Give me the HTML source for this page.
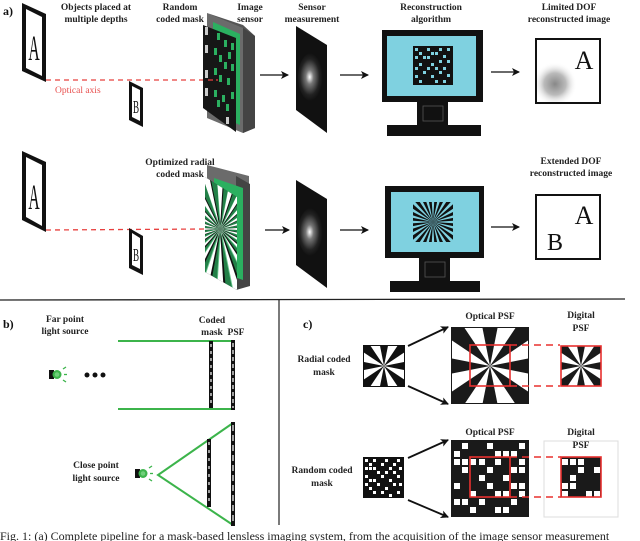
<!DOCTYPE html>
<html><head><meta charset="utf-8"><style>
html,body{margin:0;padding:0;background:#fff;}
svg{display:block;}
.l{font-family:"Liberation Serif",serif;font-weight:bold;font-size:9.5px;fill:#222;text-anchor:middle;}
.p{font-family:"Liberation Serif",serif;font-weight:bold;font-size:12px;fill:#111;}
</style></head><body>
<svg width="640" height="541" viewBox="0 0 640 541" xmlns="http://www.w3.org/2000/svg">
<defs>
<radialGradient id="spot" cx="0.45" cy="0.5" r="0.5">
<stop offset="0" stop-color="#fff"/><stop offset="0.3" stop-color="#777"/><stop offset="0.75" stop-color="#222"/><stop offset="1" stop-color="#111"/></radialGradient>
<radialGradient id="blur" cx="0.5" cy="0.5" r="0.5">
<stop offset="0" stop-color="#888"/><stop offset="0.5" stop-color="#bbb"/><stop offset="1" stop-color="#fff" stop-opacity="0"/></radialGradient>
<g id="wed"><polygon points="0,0 100,-20 100,20"/></g>
<g id="star">
<use href="#wed" transform="rotate(0)"/><use href="#wed" transform="rotate(45)"/><use href="#wed" transform="rotate(90)"/><use href="#wed" transform="rotate(135)"/><use href="#wed" transform="rotate(180)"/><use href="#wed" transform="rotate(225)"/><use href="#wed" transform="rotate(270)"/><use href="#wed" transform="rotate(315)"/>
</g>
<g id="fine">
<polygon points="0,0 100,-6 100,6"/><polygon points="0,0 100,-6 100,6" transform="rotate(15)"/><polygon points="0,0 100,-6 100,6" transform="rotate(30)"/><polygon points="0,0 100,-6 100,6" transform="rotate(45)"/><polygon points="0,0 100,-6 100,6" transform="rotate(60)"/><polygon points="0,0 100,-6 100,6" transform="rotate(75)"/><polygon points="0,0 100,-6 100,6" transform="rotate(90)"/><polygon points="0,0 100,-6 100,6" transform="rotate(105)"/><polygon points="0,0 100,-6 100,6" transform="rotate(120)"/><polygon points="0,0 100,-6 100,6" transform="rotate(135)"/><polygon points="0,0 100,-6 100,6" transform="rotate(150)"/><polygon points="0,0 100,-6 100,6" transform="rotate(165)"/><polygon points="0,0 100,-6 100,6" transform="rotate(180)"/><polygon points="0,0 100,-6 100,6" transform="rotate(195)"/><polygon points="0,0 100,-6 100,6" transform="rotate(210)"/><polygon points="0,0 100,-6 100,6" transform="rotate(225)"/><polygon points="0,0 100,-6 100,6" transform="rotate(240)"/><polygon points="0,0 100,-6 100,6" transform="rotate(255)"/><polygon points="0,0 100,-6 100,6" transform="rotate(270)"/><polygon points="0,0 100,-6 100,6" transform="rotate(285)"/><polygon points="0,0 100,-6 100,6" transform="rotate(300)"/><polygon points="0,0 100,-6 100,6" transform="rotate(315)"/><polygon points="0,0 100,-6 100,6" transform="rotate(330)"/><polygon points="0,0 100,-6 100,6" transform="rotate(345)"/>
</g>
<clipPath id="c1"><rect x="364" y="346" width="40" height="40"/></clipPath>
<clipPath id="c2"><rect x="452" y="328" width="76" height="75"/></clipPath>
<clipPath id="c3"><rect x="561" y="346" width="40" height="40"/></clipPath>
<clipPath id="c4"><polygon points="205,177 237,197 237,290 205,272"/></clipPath>
<clipPath id="c5"><rect x="413" y="202" width="40" height="40"/></clipPath>
<marker id="ar" markerWidth="8" markerHeight="8" refX="7" refY="4" orient="auto" markerUnits="userSpaceOnUse"><path d="M0,0 L8,4 L0,8 L2,4 z" fill="#111"/></marker>
</defs>

<text class="p" x="3" y="15">a)</text>
<text class="l" x="96" y="10">Objects placed at</text>
<text class="l" x="96" y="22">multiple depths</text>
<text class="l" x="180" y="10">Random</text>
<text class="l" x="180" y="22">coded mask</text>
<text class="l" x="250" y="10">Image</text>
<text class="l" x="250" y="22">sensor</text>
<text class="l" x="312" y="10">Sensor</text>
<text class="l" x="312" y="22">measurement</text>
<text class="l" x="431" y="10">Reconstruction</text>
<text class="l" x="431" y="22">algorithm</text>
<text class="l" x="569" y="10">Limited DOF</text>
<text class="l" x="569" y="22">reconstructed image</text>

<polygon points="22,3 46,14 46,82 22,71" fill="#111"/>
<polygon points="26,9 42,17 42,76 26,68" fill="#fff"/>
<text transform="translate(34,60) scale(0.65,1.5)" font-family="Liberation Serif,serif" font-size="24" text-anchor="middle" fill="#111">A</text>
<line x1="46" y1="80" x2="218" y2="80" stroke="#e8403f" stroke-width="1.3" stroke-dasharray="5,4"/>
<text x="55" y="93" font-family="Liberation Serif,serif" font-size="9.5" fill="#e8504f">Optical axis</text>
<polygon points="129,81 143,88 143,127 129,120" fill="#111"/>
<polygon points="132,86 140,90 140,121 132,117" fill="#fff"/>
<text transform="translate(136,113) scale(0.7,1.4)" font-family="Liberation Serif,serif" font-size="13" text-anchor="middle" fill="#111">B</text>
<polygon points="207,13 243,25 255,36 255,128 243,133 243,30" fill="#555"/>
<polygon points="207,13 243,28 243,133 207,118" fill="#6b6b6b"/>
<polygon points="243,28 255,36 255,128 243,133" fill="#444"/>
<polygon points="213,22 240,34 240,125 213,113" fill="#2bb060"/>
<polygon points="203,25 236,38 236,132 203,108" fill="#161616"/>
<g fill="#2bb060">
<rect x="217" y="33" width="3" height="7"/><rect x="224" y="40" width="3" height="7"/><rect x="231" y="43" width="3" height="7"/><rect x="214" y="48" width="3" height="7"/><rect x="219" y="55" width="3" height="7"/><rect x="228" y="52" width="3" height="7"/><rect x="224" y="62" width="3" height="7"/><rect x="214" y="68" width="3" height="7"/><rect x="231" y="64" width="3" height="7"/><rect x="219" y="75" width="3" height="7"/><rect x="227" y="78" width="3" height="7"/><rect x="214" y="90" width="3" height="7"/><rect x="222" y="95" width="3" height="7"/><rect x="231" y="92" width="3" height="7"/><rect x="226" y="104" width="3" height="7"/><rect x="217" y="100" width="3" height="7"/></g>
<g fill="#ccc"><rect x="205" y="27" width="3" height="8"/><rect x="205" y="45" width="3" height="8"/><rect x="205" y="70" width="3" height="8"/><rect x="205" y="88" width="3" height="8"/><rect x="226" y="117" width="3" height="7"/></g>
<line x1="208" y1="80" x2="218" y2="80" stroke="#e8403f" stroke-width="1.3" stroke-dasharray="5,3"/>
<line x1="260" y1="75" x2="288" y2="75" stroke="#111" stroke-width="1.2" marker-end="url(#ar)"/>
<polygon points="296,26 327,45 327,133 296,110" fill="#111"/>
<ellipse cx="311" cy="77" rx="13" ry="24" fill="url(#spot)"/>
<line x1="340" y1="75" x2="368" y2="75" stroke="#111" stroke-width="1.2" marker-end="url(#ar)"/>
<rect x="382" y="30" width="101" height="72" fill="#111"/>
<rect x="387" y="36" width="89" height="60" fill="#7fd1e0"/>
<rect x="413" y="46" width="40" height="39" fill="#111"/>
<g fill="#7fd1e0">
<rect x="415" y="48" width="3" height="3"/><rect x="427" y="48" width="3" height="3"/><rect x="439" y="48" width="3" height="3"/><rect x="447" y="48" width="3" height="3"/><rect x="419" y="52" width="3" height="3"/><rect x="431" y="52" width="3" height="3"/><rect x="435" y="52" width="3" height="3"/><rect x="443" y="55" width="3" height="3"/><rect x="415" y="56" width="3" height="3"/><rect x="423" y="56" width="3" height="3"/><rect x="427" y="56" width="3" height="3"/><rect x="439" y="60" width="3" height="3"/><rect x="447" y="60" width="3" height="3"/><rect x="419" y="63" width="3" height="3"/><rect x="431" y="63" width="3" height="3"/><rect x="415" y="67" width="3" height="3"/><rect x="427" y="67" width="3" height="3"/><rect x="435" y="67" width="3" height="3"/><rect x="443" y="67" width="3" height="3"/><rect x="423" y="71" width="3" height="3"/><rect x="439" y="71" width="3" height="3"/><rect x="447" y="74" width="3" height="3"/><rect x="415" y="75" width="3" height="3"/><rect x="431" y="75" width="3" height="3"/><rect x="419" y="80" width="3" height="3"/><rect x="435" y="80" width="3" height="3"/><rect x="443" y="80" width="3" height="3"/></g>
<rect x="417" y="102" width="31" height="24" fill="#111"/>
<rect x="423" y="106" width="20" height="15" fill="#111" stroke="#555" stroke-width="0.8"/>
<rect x="387" y="125" width="94" height="11" fill="#111"/>
<line x1="491" y1="72" x2="519" y2="72" stroke="#111" stroke-width="1.2" marker-end="url(#ar)"/>
<rect x="536" y="39" width="64" height="64" fill="#fff" stroke="#111" stroke-width="2"/>
<circle cx="555" cy="84" r="22" fill="url(#blur)"/>
<rect x="536" y="39" width="64" height="64" fill="none" stroke="#111" stroke-width="2"/>
<text x="584" y="69" font-family="Liberation Serif,serif" font-size="26" text-anchor="middle" fill="#111">A</text>

<text class="l" x="180" y="165">Optimized radial</text>
<text class="l" x="180" y="177">coded mask</text>
<text class="l" x="571" y="164">Extended DOF</text>
<text class="l" x="571" y="176">reconstructed image</text>
<polygon points="22,151 46,162 46,232 22,220" fill="#111"/>
<polygon points="26,157 42,165 42,226 26,217" fill="#fff"/>
<text transform="translate(34,209) scale(0.65,1.5)" font-family="Liberation Serif,serif" font-size="24" text-anchor="middle" fill="#111">A</text>
<line x1="46" y1="230" x2="206" y2="229" stroke="#e8403f" stroke-width="1.3" stroke-dasharray="5,4"/>
<polygon points="129,228 143,236 143,275 129,268" fill="#111"/>
<polygon points="132,233 140,238 140,269 132,265" fill="#fff"/>
<text transform="translate(136,261) scale(0.7,1.4)" font-family="Liberation Serif,serif" font-size="13" text-anchor="middle" fill="#111">B</text>
<polygon points="207,165 249,176 249,283 207,272" fill="#6b6b6b"/>
<polygon points="236,176 250,184 250,286 236,290" fill="#444"/>
<polygon points="214,178 243,188 243,280 214,270" fill="#2bb060"/>
<polygon points="205,177 237,197 237,290 205,272" fill="#111"/>
<g clip-path="url(#c4)">
<g transform="translate(220,229) scale(0.7)" fill="#fff"><use href="#fine"/></g>
<g transform="translate(221,229) rotate(7) scale(0.7)" fill="#2bb060" opacity="0.7"><use href="#fine"/></g>
</g>
<line x1="265" y1="230" x2="289" y2="230" stroke="#111" stroke-width="1.2" marker-end="url(#ar)"/>
<polygon points="296,180 327,199 327,288 296,265" fill="#111"/>
<ellipse cx="311" cy="232" rx="13" ry="24" fill="url(#spot)"/>
<line x1="340" y1="230" x2="368" y2="230" stroke="#111" stroke-width="1.2" marker-end="url(#ar)"/>
<rect x="385" y="186" width="99" height="72" fill="#111"/>
<rect x="391" y="192" width="88" height="60" fill="#7fd1e0"/>
<rect x="413" y="202" width="40" height="40" fill="#111"/>
<g clip-path="url(#c5)"><g transform="translate(433,222) scale(0.6)" fill="#7fd1e0"><use href="#fine"/></g></g>
<rect x="419" y="258" width="31" height="24" fill="#111"/>
<rect x="425" y="262" width="20" height="15" fill="#111" stroke="#555" stroke-width="0.8"/>
<rect x="390" y="281" width="90" height="11" fill="#111"/>
<line x1="491" y1="227" x2="519" y2="227" stroke="#111" stroke-width="1.2" marker-end="url(#ar)"/>
<rect x="536" y="195" width="64" height="64" fill="#fff" stroke="#111" stroke-width="2"/>
<text x="584" y="224" font-family="Liberation Serif,serif" font-size="26" text-anchor="middle" fill="#111">A</text>
<text x="555" y="250" font-family="Liberation Serif,serif" font-size="24" text-anchor="middle" fill="#111">B</text>

<line x1="0" y1="300" x2="625" y2="299" stroke="#222" stroke-width="1.3"/>
<line x1="279" y1="300" x2="279" y2="525" stroke="#222" stroke-width="1.2"/>

<text class="p" x="3" y="328">b)</text>
<text class="l" x="65" y="322">Far point</text>
<text class="l" x="65" y="334">light source</text>
<text class="l" x="212" y="323">Coded</text>
<text class="l" x="212" y="335">mask</text>
<text class="l" x="236" y="335">PSF</text>
<line x1="118" y1="341" x2="233" y2="341" stroke="#3cb44b" stroke-width="2"/>
<line x1="118" y1="409" x2="233" y2="409" stroke="#3cb44b" stroke-width="2"/>
<rect x="209" y="341" width="4" height="67" fill="#111"/>
<line x1="211" y1="344" x2="211" y2="406" stroke="#fff" stroke-width="1.2" stroke-dasharray="3,4"/>
<rect x="231" y="340" width="4" height="70" fill="#111"/>
<line x1="233" y1="343" x2="233" y2="408" stroke="#fff" stroke-width="1.2" stroke-dasharray="4,3"/>
<g>
<rect x="49" y="370" width="5" height="9" fill="#111"/>
<circle cx="57" cy="374.5" r="4.5" fill="#3cb44b"/><circle cx="57" cy="374.5" r="2.3" fill="#6fd07a"/>
<line x1="63" y1="369" x2="66" y2="367" stroke="#3cb44b" stroke-width="1.3"/><line x1="64" y1="374.5" x2="67" y2="374.5" stroke="#3cb44b" stroke-width="1.3"/><line x1="63" y1="380" x2="66" y2="382" stroke="#3cb44b" stroke-width="1.3"/>
</g>
<circle cx="87" cy="375" r="2.5" fill="#111"/><circle cx="95" cy="375" r="2.5" fill="#111"/><circle cx="103" cy="375" r="2.5" fill="#111"/>
<text class="l" x="96" y="468">Close point</text>
<text class="l" x="96" y="481">light source</text>
<g>
<rect x="135" y="469" width="5" height="9" fill="#111"/>
<circle cx="143" cy="473.5" r="4.5" fill="#3cb44b"/><circle cx="143" cy="473.5" r="2.3" fill="#6fd07a"/>
<line x1="149" y1="468" x2="152" y2="466" stroke="#3cb44b" stroke-width="1.3"/><line x1="150" y1="473.5" x2="153" y2="473.5" stroke="#3cb44b" stroke-width="1.3"/><line x1="149" y1="479" x2="152" y2="481" stroke="#3cb44b" stroke-width="1.3"/>
</g>
<polyline points="233,423 158,475 233,525" fill="none" stroke="#3cb44b" stroke-width="2"/>
<rect x="207" y="439" width="4" height="68" fill="#111"/>
<line x1="209" y1="442" x2="209" y2="505" stroke="#fff" stroke-width="1.2" stroke-dasharray="3,5"/>
<rect x="231" y="422" width="4" height="104" fill="#111"/>
<line x1="233" y1="425" x2="233" y2="523" stroke="#fff" stroke-width="1.2" stroke-dasharray="6,4"/>

<text class="p" x="303" y="328">c)</text>
<text class="l" x="324" y="362">Radial coded</text>
<text class="l" x="324" y="375">mask</text>
<rect x="363" y="345" width="42" height="42" fill="#111"/>
<g clip-path="url(#c1)"><g transform="translate(384,366) rotate(22.5)" fill="#fff"><use href="#star"/></g></g>
<line x1="408" y1="346" x2="448" y2="327" stroke="#111" stroke-width="1.8" marker-end="url(#ar)"/>
<line x1="408" y1="386" x2="448" y2="404" stroke="#111" stroke-width="1.8" marker-end="url(#ar)"/>
<text class="l" x="490" y="319">Optical PSF</text>
<rect x="451" y="327" width="78" height="77" fill="#1a1a1a"/>
<g clip-path="url(#c2)"><g transform="translate(490,366) rotate(22.5)" fill="#fff"><use href="#star"/></g></g>
<rect x="470" y="345" width="40" height="41" fill="none" stroke="#e8302f" stroke-width="1.6"/>
<line x1="510" y1="345" x2="560" y2="345" stroke="#e8302f" stroke-width="1.5" stroke-dasharray="7,5"/>
<line x1="510" y1="386" x2="560" y2="386" stroke="#e8302f" stroke-width="1.5" stroke-dasharray="7,5"/>
<text class="l" x="581" y="318">Digital</text>
<text class="l" x="581" y="331">PSF</text>
<rect x="561" y="346" width="40" height="40" fill="#1a1a1a"/>
<g clip-path="url(#c3)"><g transform="translate(581,366) rotate(22.5)" fill="#fff"><use href="#star"/></g></g>
<rect x="561" y="346" width="40" height="40" fill="none" stroke="#e8302f" stroke-width="1.6"/>

<text class="l" x="322" y="473">Random coded</text>
<text class="l" x="322" y="486">mask</text>
<rect x="363" y="457" width="41" height="41" fill="#111"/>
<g fill="#fff">
<rect x="365" y="459" width="3" height="3"/><rect x="373" y="459" width="3" height="3"/><rect x="385" y="459" width="3" height="3"/><rect x="397" y="459" width="3" height="3"/><rect x="369" y="463" width="3" height="3"/><rect x="381" y="463" width="3" height="3"/><rect x="393" y="463" width="3" height="3"/><rect x="365" y="467" width="3" height="3"/><rect x="369" y="467" width="3" height="3"/><rect x="373" y="467" width="3" height="3"/><rect x="389" y="467" width="3" height="3"/><rect x="399" y="467" width="3" height="3"/><rect x="377" y="471" width="3" height="3"/><rect x="385" y="471" width="3" height="3"/><rect x="393" y="471" width="3" height="3"/><rect x="365" y="475" width="3" height="3"/><rect x="381" y="475" width="3" height="3"/><rect x="397" y="475" width="3" height="3"/><rect x="369" y="479" width="3" height="3"/><rect x="373" y="479" width="3" height="3"/><rect x="389" y="479" width="3" height="3"/><rect x="365" y="483" width="3" height="3"/><rect x="377" y="483" width="3" height="3"/><rect x="393" y="483" width="3" height="3"/><rect x="399" y="483" width="3" height="3"/><rect x="369" y="487" width="3" height="3"/><rect x="385" y="487" width="3" height="3"/><rect x="373" y="491" width="3" height="3"/><rect x="381" y="491" width="3" height="3"/><rect x="397" y="491" width="3" height="3"/><rect x="389" y="494" width="3" height="3"/></g>
<line x1="408" y1="458" x2="448" y2="440" stroke="#111" stroke-width="1.8" marker-end="url(#ar)"/>
<line x1="408" y1="500" x2="448" y2="517" stroke="#111" stroke-width="1.8" marker-end="url(#ar)"/>
<text class="l" x="490" y="435">Optical PSF</text>
<rect x="451" y="440" width="78" height="77" fill="#1a1a1a"/>
<g fill="#fff">
<rect x="462" y="443" width="6" height="6"/><rect x="487" y="443" width="6" height="6"/><rect x="519" y="443" width="6" height="6"/><rect x="454" y="451" width="6" height="6"/><rect x="495" y="451" width="6" height="6"/><rect x="503" y="451" width="6" height="6"/><rect x="511" y="451" width="6" height="6"/><rect x="454" y="459" width="6" height="6"/><rect x="462" y="459" width="6" height="6"/><rect x="470" y="459" width="6" height="6"/><rect x="479" y="459" width="6" height="6"/><rect x="495" y="459" width="6" height="6"/><rect x="519" y="459" width="6" height="6"/><rect x="462" y="467" width="6" height="6"/><rect x="487" y="467" width="6" height="6"/><rect x="511" y="467" width="6" height="6"/><rect x="519" y="467" width="6" height="6"/><rect x="503" y="475" width="6" height="6"/><rect x="479" y="475" width="6" height="6"/><rect x="454" y="483" width="6" height="6"/><rect x="487" y="483" width="6" height="6"/><rect x="511" y="483" width="6" height="6"/><rect x="519" y="483" width="6" height="6"/><rect x="470" y="491" width="6" height="6"/><rect x="495" y="491" width="6" height="6"/><rect x="503" y="491" width="6" height="6"/><rect x="519" y="491" width="6" height="6"/><rect x="454" y="499" width="6" height="6"/><rect x="462" y="499" width="6" height="6"/><rect x="479" y="499" width="6" height="6"/><rect x="511" y="499" width="6" height="6"/><rect x="470" y="507" width="6" height="6"/><rect x="495" y="507" width="6" height="6"/><rect x="503" y="507" width="6" height="6"/></g>
<rect x="470" y="457" width="40" height="40" fill="none" stroke="#e8302f" stroke-width="1.6"/>
<rect x="544" y="441" width="74" height="76" fill="#fff" stroke="#ddd" stroke-width="1"/>
<text class="l" x="581" y="435">Digital</text>
<text class="l" x="581" y="448">PSF</text>
<line x1="510" y1="457" x2="561" y2="457" stroke="#e8302f" stroke-width="1.5" stroke-dasharray="7,5"/>
<line x1="510" y1="497" x2="561" y2="497" stroke="#e8302f" stroke-width="1.5" stroke-dasharray="7,5"/>
<rect x="561" y="457" width="40" height="40" fill="#1a1a1a"/>
<g fill="#fff"><rect x="562" y="459" width="6" height="6"/><rect x="570" y="459" width="6" height="6"/><rect x="578" y="459" width="6" height="6"/><rect x="578" y="467" width="6" height="6"/><rect x="594" y="467" width="6" height="6"/><rect x="570" y="475" width="6" height="6"/><rect x="562" y="483" width="6" height="6"/><rect x="570" y="483" width="6" height="6"/><rect x="562" y="491" width="6" height="6"/><rect x="586" y="491" width="6" height="6"/><rect x="594" y="491" width="6" height="6"/></g>
<rect x="561" y="457" width="40" height="40" fill="none" stroke="#e8302f" stroke-width="1.6"/>

<text x="0" y="540" font-family="Liberation Serif,serif" font-size="12" fill="#222">Fig. 1: (a) Complete pipeline for a mask-based lensless imaging system, from the acquisition of the image sensor measurement</text>
</svg>
</body></html>
